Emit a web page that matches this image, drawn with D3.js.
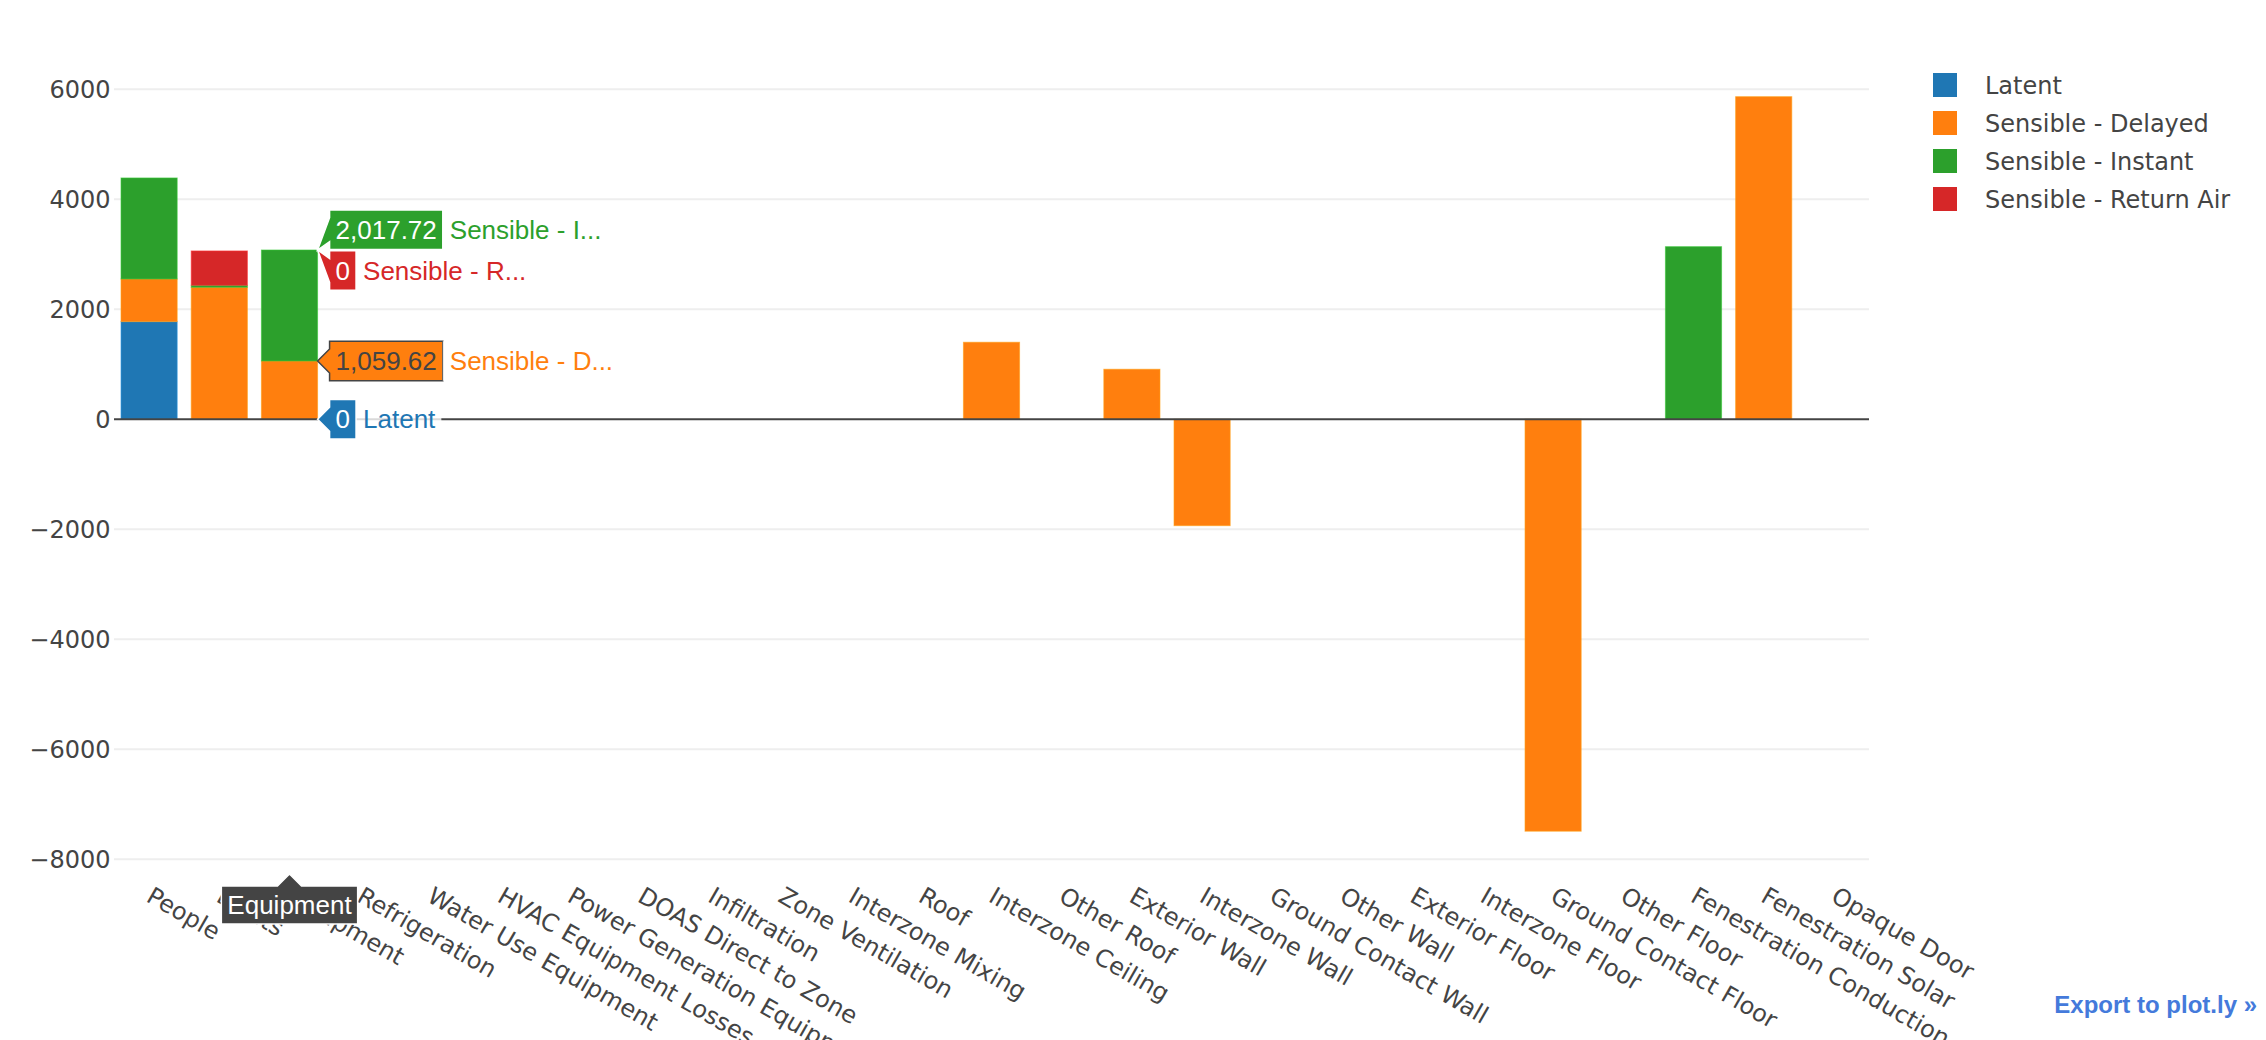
<!DOCTYPE html>
<html>
<head>
<meta charset="utf-8">
<script src="https://cdn.jsdelivr.net/npm/d3@7"></script>
<style>
  body { margin: 0; background: #fff; }
  svg { display: block; }
</style>
</head>
<body>
<svg id="chart" width="2266" height="1040"></svg>
<script>
// ---------------- data ----------------
const categories = ["People", "Lights", "Equipment", "Refrigeration", "Water Use Equipment",
  "HVAC Equipment Losses", "Power Generation Equipment", "DOAS Direct to Zone", "Infiltration",
  "Zone Ventilation", "Interzone Mixing", "Roof", "Interzone Ceiling", "Other Roof", "Exterior Wall",
  "Interzone Wall", "Ground Contact Wall", "Other Wall", "Exterior Floor", "Interzone Floor",
  "Ground Contact Floor", "Other Floor", "Fenestration Conduction", "Fenestration Solar", "Opaque Door"];

const seriesNames = ["Latent", "Sensible - Delayed", "Sensible - Instant", "Sensible - Return Air"];

const latent    = [1775, 0, 0, 0, 0, 0, 0, 0, 0, 0, 0, 0, 0, 0, 0, 0, 0, 0, 0, 0, 0, 0, 0, 0, 0];
const delayed   = [776, 2400, 1059.62, 0, 0, 0, 0, 0, 0, 0, 0, 0, 1400, 0, 909, -1935, 0, 0, 0, 0, -7490, 0, 0, 5865, 0];
const instant   = [1836, 36, 2017.72, 0, 0, 0, 0, 0, 0, 0, 0, 0, 0, 0, 0, 0, 0, 0, 0, 0, 0, 0, 3138, 0, 0];
const returnAir = [0, 624, 0, 0, 0, 0, 0, 0, 0, 0, 0, 0, 0, 0, 0, 0, 0, 0, 0, 0, 0, 0, 0, 0, 0];

const yTicks = [-8000, -6000, -4000, -2000, 0, 2000, 4000, 6000];
const hoveredCategory = "Equipment";
const exportText = "Export to plot.ly \u00bb";

// ---------------- setup ----------------
const colors = ["#1f77b4", "#ff7f0e", "#2ca02c", "#d62728"];
const seriesValues = [latent, delayed, instant, returnAir];
const tickFont = "'DejaVu Sans', Verdana, sans-serif";
const hoverFont = "'Liberation Sans', Arial, sans-serif";

const svg = d3.select("#chart");
const plot = { left: 114, right: 1869, top: 61.2, bottom: 866.4 };

const x = d3.scaleBand().domain(categories).range([plot.left, plot.right])
  .paddingInner(0.2).paddingOuter(0.1);
const y = d3.scaleLinear().domain([-8130, 6510]).range([plot.bottom, plot.top]);

const rows = categories.map((c, i) => {
  const r = { cat: c };
  seriesNames.forEach((s, k) => r[s] = seriesValues[k][i]);
  return r;
});
const stacked = d3.stack().keys(seriesNames).offset(d3.stackOffsetDiverging)(rows);

// gridlines
svg.append("g").selectAll("line").data(yTicks.filter(t => t !== 0)).join("line")
  .attr("x1", plot.left).attr("x2", plot.right)
  .attr("y1", d => y(d)).attr("y2", d => y(d))
  .attr("stroke", "#eee").attr("stroke-width", 2);

// y tick labels
const yAxis = d3.axisLeft(y).tickValues(yTicks).tickSize(0).tickPadding(0)
  .tickFormat(d => d < 0 ? "\u2212" + Math.abs(d) : String(d));
const yg = svg.append("g").attr("transform", `translate(${plot.left - 3.5},0)`).call(yAxis);
yg.select(".domain").remove();
yg.selectAll("text").attr("font-family", tickFont).attr("font-size", 24)
  .attr("fill", "#444").attr("dy", "0.35em");

// bars
const barG = svg.append("g");
stacked.forEach((layer, k) => {
  barG.append("g").selectAll("rect").data(layer.filter(d => d[1] !== d[0])).join("rect")
    .attr("x", d => x(d.data.cat))
    .attr("width", x.bandwidth())
    .attr("y", d => y(Math.max(d[0], d[1])))
    .attr("height", d => Math.abs(y(d[0]) - y(d[1])))
    .attr("fill", colors[k])
    .attr("stroke", d3.color(colors[k]).brighter(0.6))
    .attr("stroke-opacity", 0.6)
    .attr("stroke-width", 1);
});

// zero line
svg.append("line").attr("x1", plot.left).attr("x2", plot.right)
  .attr("y1", y(0)).attr("y2", y(0)).attr("stroke", "#444").attr("stroke-width", 2.2);

// x tick labels (rotated 30°)
const xAxis = d3.axisBottom(x).tickSize(0).tickPadding(0);
const xg = svg.append("g").attr("transform", `translate(0,${plot.bottom})`).call(xAxis);
xg.select(".domain").remove();
xg.selectAll(".tick text")
  .attr("font-family", tickFont).attr("font-size", 24).attr("fill", "#444")
  .attr("text-anchor", "start").attr("y", 0).attr("dy", "0.35em")
  .attr("transform", "translate(0,27) rotate(30)");

// legend
const legend = svg.append("g");
seriesNames.forEach((s, k) => {
  const cy = 85 + k * 38;
  legend.append("rect").attr("x", 1933).attr("y", cy - 12).attr("width", 24).attr("height", 24)
    .attr("fill", colors[k]);
  legend.append("text").attr("x", 1985).attr("y", cy).attr("dy", "0.36em")
    .attr("font-family", tickFont).attr("font-size", 24).attr("fill", "#444").text(s);
});

// ---------------- hover labels (static snapshot of hover state) ----------------
const hoverG = svg.append("g");
const ci = categories.indexOf(hoveredCategory);
const px = x(hoveredCategory) + x.bandwidth();
const fmt = v => v === 0 ? "0" : d3.format(",.2f")(v);
const isLight = c => { const r = d3.rgb(c); return (r.r * 299 + r.g * 587 + r.b * 114) / 1000 > 128; };
const offsets = [0, 0, -20.3, 20.5];   // vertical shifts that keep labels apart
const A = 12, BY = 39.5, PAD = 6;

let cumulative = 0;
seriesNames.forEach((s, k) => {
  cumulative += seriesValues[k][ci];
  const py = y(cumulative);
  const offY = offsets[k];
  const bg = colors[k];
  const fg = isLight(bg) ? "#444" : "#fff";
  const g = hoverG.append("g").attr("transform", `translate(${px},${py})`);
  const path = g.append("path").attr("fill", bg).attr("stroke", fg).attr("stroke-width", 1.5);
  const t = g.append("text").attr("font-family", hoverFont).attr("font-size", 26)
    .attr("fill", fg).attr("x", A + PAD).attr("y", offY).attr("dy", "0.35em")
    .text(fmt(seriesValues[k][ci]));
  const bx = t.node().getComputedTextLength() + 2 * PAD;
  path.attr("d", `M0,0L${A},${A + offY}v${BY / 2 - A}h${bx}v${-BY}H${A}V${offY - A}Z`);
  const name = s.length > 15 ? s.slice(0, 12) + "..." : s;
  const nameRect = g.append("rect");
  const nt = g.append("text").attr("font-family", hoverFont).attr("font-size", 26)
    .attr("fill", bg).attr("x", A + bx + PAD + 1).attr("y", offY).attr("dy", "0.35em").text(name);
  const nw = nt.node().getComputedTextLength();
  nameRect.attr("x", A + bx).attr("y", offY - BY / 2).attr("width", nw + 2 * PAD + 1)
    .attr("height", BY).attr("fill", "#fff").attr("fill-opacity", 0.8);
});

// x-axis common hover label
{
  const cx = x(hoveredCategory) + x.bandwidth() / 2;
  const g = hoverG.append("g").attr("transform", `translate(${cx},${874})`);
  const path = g.append("path").attr("fill", "#444").attr("stroke", "#fff").attr("stroke-width", 1.5);
  const t = g.append("text").attr("font-family", hoverFont).attr("font-size", 26)
    .attr("fill", "#fff").attr("text-anchor", "middle").attr("x", 0).attr("y", A + 38 / 2)
    .attr("dy", "0.35em").text(hoveredCategory);
  const w = t.node().getComputedTextLength() + 2 * PAD;
  path.attr("d", `M${-A},${A}L0,0L${A},${A}H${w / 2}v38H${-w / 2}V${A}Z`);
}

// export link
svg.append("text").attr("x", 2257).attr("y", 1013).attr("text-anchor", "end")
  .attr("font-family", hoverFont).attr("font-size", 24).attr("font-weight", "bold")
  .attr("fill", "#447adb").text(exportText);
</script>
</body>
</html>
